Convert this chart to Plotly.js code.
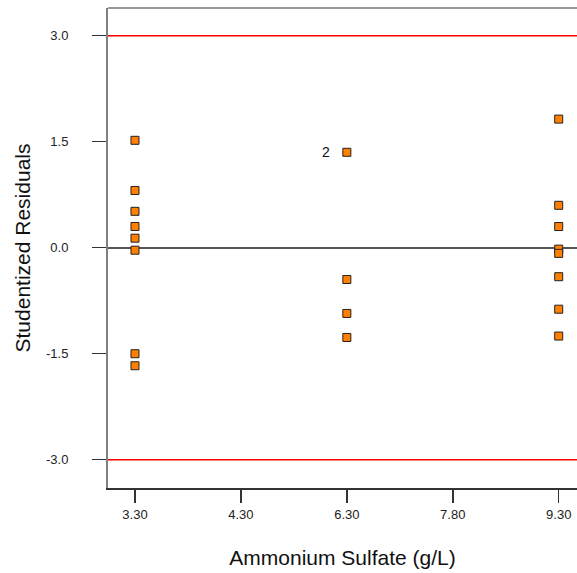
<!DOCTYPE html>
<html>
<head>
<meta charset="utf-8">
<script src="https://cdn.plot.ly/plotly-3.0.1.min.js"></script>
<style>html,body{margin:0;padding:0;background:#fff;overflow:hidden}</style>
</head>
<body>
<div id="chart" style="width:577px;height:573px"></div>
<script>
// Data
const xAmmonium = [3.3,3.3,3.3,3.3,3.3,3.3,3.3,3.3,
                   6.3,6.3,6.3,6.3,
                   9.3,9.3,9.3,9.3,9.3,9.3,9.3,9.3];
const residuals = [1.52,0.81,0.515,0.30,0.135,-0.035,-1.50,-1.67,
                   1.35,-0.45,-0.93,-1.27,
                   1.82,0.60,0.30,-0.02,-0.08,-0.41,-0.87,-1.25];
const xTickVals = [3.3,4.8,6.3,7.8,9.3];
const xTickText = ["3.30","4.30","6.30","7.80","9.30"];
const yTickVals = [-3,-1.5,0,1.5,3];
const yTickText = ["-3.0","-1.5","0.0","1.5","3.0"];
const limitValues = [3,-3];
const labelPoint = {x:6.3, y:1.35, text:"2"};

const font = "Liberation Sans, Arial, sans-serif";

const trace = {
  x: xAmmonium, y: residuals, type: "scatter", mode: "markers",
  marker: {symbol: "square", size: 8, color: "#ff8000", line: {color: "#222", width: 1}},
  hoverinfo: "x+y"
};

const shapes = limitValues.map(v => ({
  type: "line", xref: "paper", yref: "y", x0: 0, x1: 1, y0: v, y1: v,
  line: {color: "#ff0000", width: 1.5}
}));
shapes.push({type: "line", xref: "paper", yref: "paper", x0: 0, x1: 1, y0: 1, y1: 1,
  line: {color: "#777", width: 1.5}});

const layout = {
  width: 577, height: 573,
  margin: {l: 108, r: 0, t: 8, b: 85},
  paper_bgcolor: "#fff", plot_bgcolor: "#fff",
  showlegend: false,
  font: {family: font, color: "#222"},
  xaxis: {
    range: [2.918, 9.559],
    tickmode: "array", tickvals: xTickVals, ticktext: xTickText,
    ticks: "outside", ticklen: 13, tickwidth: 1.5, tickcolor: "#333",
    ticklabelstandoff: 1,
    tickfont: {size: 13, family: font, color: "#222"},
    showgrid: false, zeroline: false,
    showline: true, linecolor: "#333", linewidth: 1.5,
    title: {text: "Ammonium Sulfate (g/L)", font: {size: 21, family: font, color: "#111"}, standoff: 29}
  },
  yaxis: {
    range: [-3.400, 3.392],
    tickmode: "array", tickvals: yTickVals, ticktext: yTickText,
    ticks: "outside", ticklen: 14, tickwidth: 1.5, tickcolor: "#333",
    ticklabelstandoff: 21,
    tickfont: {size: 13, family: font, color: "#222"},
    showgrid: false,
    zeroline: true, zerolinecolor: "#555", zerolinewidth: 2,
    showline: true, linecolor: "#808080", linewidth: 2,
    title: {text: "Studentized Residuals", font: {size: 21, family: font, color: "#111"}, standoff: 10}
  },
  shapes: shapes,
  annotations: [{
    x: labelPoint.x, y: labelPoint.y, xref: "x", yref: "y", text: labelPoint.text,
    showarrow: false, xshift: -21, font: {size: 14, family: font, color: "#111"}
  }]
};

Plotly.newPlot("chart", [trace], layout, {displayModeBar: false, staticPlot: true});
</script>
</body>
</html>
